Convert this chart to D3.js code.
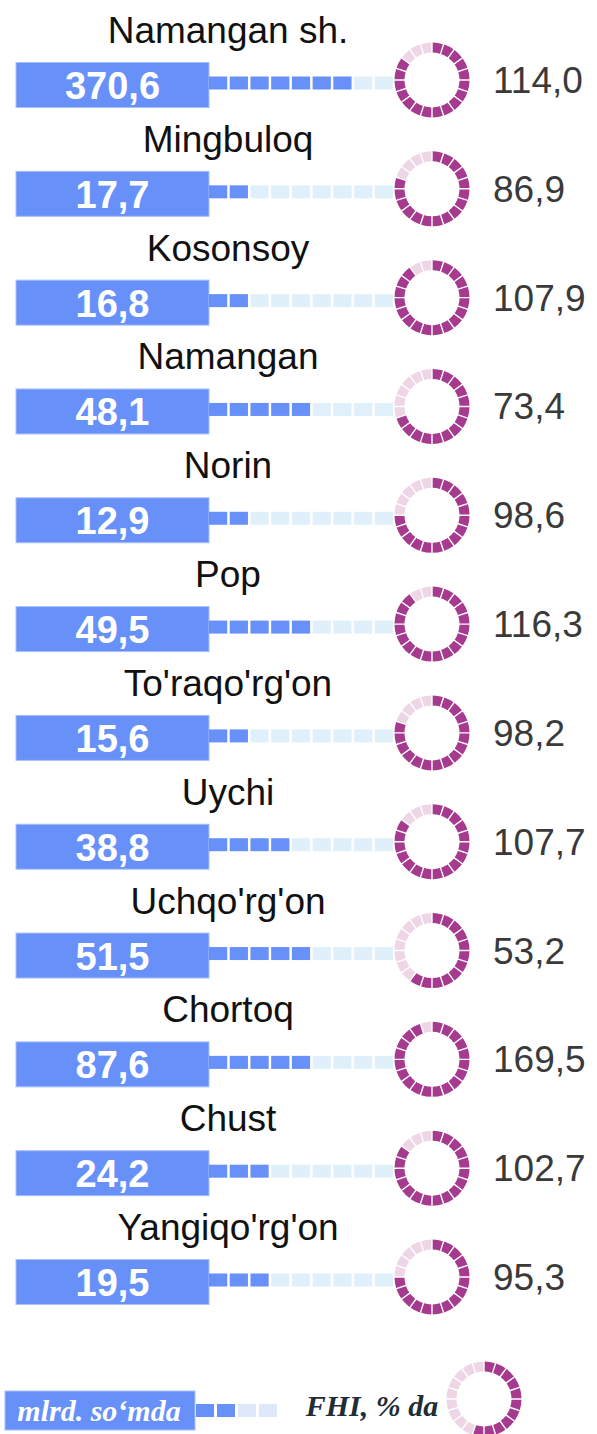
<!DOCTYPE html>
<html>
<head>
<meta charset="utf-8">
<script src="https://cdn.jsdelivr.net/npm/d3@7"></script>
<style>
  html, body { margin: 0; padding: 0; background: #fff; }
  svg { display: block; }
</style>
</head>
<body>
<div id="chart"></div>
<script>
// District rows: volume (mlrd. so'mda) in the bar, FHI % in the ring
const districts = ["Namangan sh.", "Mingbuloq", "Kosonsoy", "Namangan", "Norin", "Pop",
    "To'raqo'rg'on", "Uychi", "Uchqo'rg'on", "Chortoq", "Chust", "Yangiqo'rg'on"];
const volumes = [370.6, 17.7, 16.8, 48.1, 12.9, 49.5, 15.6, 38.8, 51.5, 87.6, 24.2, 19.5];
const fhiValues = [114.0, 86.9, 107.9, 73.4, 98.6, 116.3, 98.2, 107.7, 53.2, 169.5, 102.7, 95.3];
// filled squares on the track (of 9) and filled ring segments (of 20), as drawn
const trackFilled = [7, 2, 2, 5, 2, 5, 2, 4, 5, 5, 3, 3];
const ringFilled = [17, 16, 18, 14, 15, 18, 16, 17, 12, 19, 17, 15];
const legendTrackFilled = 2;
const legendRingFilled = 11;
const legendUnit = "mlrd. so\u2018mda";
const legendFhi = "FHI, % da";

const W = 597, H = 1434;
const nSlots = 9, nSegs = 20;
const blue = "#6890f9", paleBlue = "#e0f0fb";
const purple = "#a53a8f", palePurple = "#efd6e7";

const fmt = d3.formatLocale({ decimal: ",", thousands: " ", grouping: [3], currency: ["", ""] }).format(".1f");

const svg = d3.select("#chart").append("svg")
    .attr("width", W).attr("height", H);

const y = d3.scalePoint().domain(districts).range([85, 1282]);
const barX = 16, barW = 193, barH = 45;
const slot = d3.scaleBand().domain(d3.range(nSlots)).range([barX + barW, 393]).paddingInner(0.12);
const ringX = 432, rOuter = 37.5, rInner = 27.5;

const pie = d3.pie().value(1).sort(null).padAngle(0.03);
const arc = d3.arc().innerRadius(rInner).outerRadius(rOuter);
const segs = pie(d3.range(nSegs));

function ring(g, filled) {
    g.selectAll("path")
        .data(segs)
        .join("path")
        .attr("d", arc)
        .attr("fill", (d, i) => i < filled ? purple : palePurple);
}

const rows = svg.selectAll(".row")
    .data(districts)
    .join("g")
    .attr("class", "row")
    .attr("transform", d => `translate(0,${y(d)})`);

// district name
rows.append("text")
    .attr("x", 228)
    .attr("y", -42)
    .attr("text-anchor", "middle")
    .attr("font-family", "'Liberation Sans', Arial, sans-serif")
    .attr("font-size", 37)
    .attr("fill", "#111")
    .text(d => d);

// main bar
rows.append("rect")
    .attr("x", barX).attr("y", -barH / 2)
    .attr("width", barW).attr("height", barH)
    .attr("fill", blue)
    .attr("stroke", "#a9c0fb").attr("stroke-width", 1);

rows.append("text")
    .attr("x", barX + barW / 2)
    .attr("y", 14)
    .attr("text-anchor", "middle")
    .attr("font-family", "'Liberation Sans', Arial, sans-serif")
    .attr("font-weight", "bold")
    .attr("font-size", 38)
    .attr("fill", "#fff")
    .text((d, i) => fmt(volumes[i]));

// square track
rows.each(function(d, i) {
    d3.select(this).selectAll(".sq")
        .data(d3.range(nSlots))
        .join("rect")
        .attr("class", "sq")
        .attr("x", k => slot(k))
        .attr("y", -8.5)
        .attr("width", slot.bandwidth())
        .attr("height", 13)
        .attr("fill", k => k < trackFilled[i] ? blue : paleBlue);
});

// FHI ring
rows.each(function(d, i) {
    const g = d3.select(this).append("g")
        .attr("transform", `translate(${ringX},-5)`);
    ring(g, ringFilled[i]);
});

rows.append("text")
    .attr("x", 493)
    .attr("y", 8)
    .attr("font-family", "'Liberation Sans', Arial, sans-serif")
    .attr("font-size", 37)
    .attr("fill", "#3a3a3a")
    .text((d, i) => fmt(fhiValues[i]));

// legend
const lg = svg.append("g").attr("transform", "translate(0,1411)");
lg.append("rect")
    .attr("x", 5).attr("y", -20)
    .attr("width", 190).attr("height", 39)
    .attr("fill", blue)
    .attr("stroke", "#a9c0fb").attr("stroke-width", 1);
lg.append("text")
    .attr("x", 99).attr("y", 10)
    .attr("text-anchor", "middle")
    .attr("font-family", "'Liberation Serif', 'Times New Roman', serif")
    .attr("font-style", "italic").attr("font-weight", "bold")
    .attr("font-size", 30)
    .attr("fill", "#fff")
    .text(legendUnit);

const lslot = d3.scaleBand().domain(d3.range(4)).range([196, 277]).paddingInner(0.14);
lg.selectAll(".lsq")
    .data(d3.range(4))
    .join("rect")
    .attr("class", "lsq")
    .attr("x", k => lslot(k))
    .attr("y", -7)
    .attr("width", lslot.bandwidth())
    .attr("height", 13)
    .attr("fill", k => k < legendTrackFilled ? blue : "#dfe8fb");

lg.append("text")
    .attr("x", 372).attr("y", 5)
    .attr("text-anchor", "middle")
    .attr("font-family", "'Liberation Serif', 'Times New Roman', serif")
    .attr("font-style", "italic").attr("font-weight", "bold")
    .attr("font-size", 30)
    .attr("fill", "#1e2d36")
    .text(legendFhi);

ring(lg.append("g").attr("transform", "translate(484,-12)"), legendRingFilled);
</script>
</body>
</html>
